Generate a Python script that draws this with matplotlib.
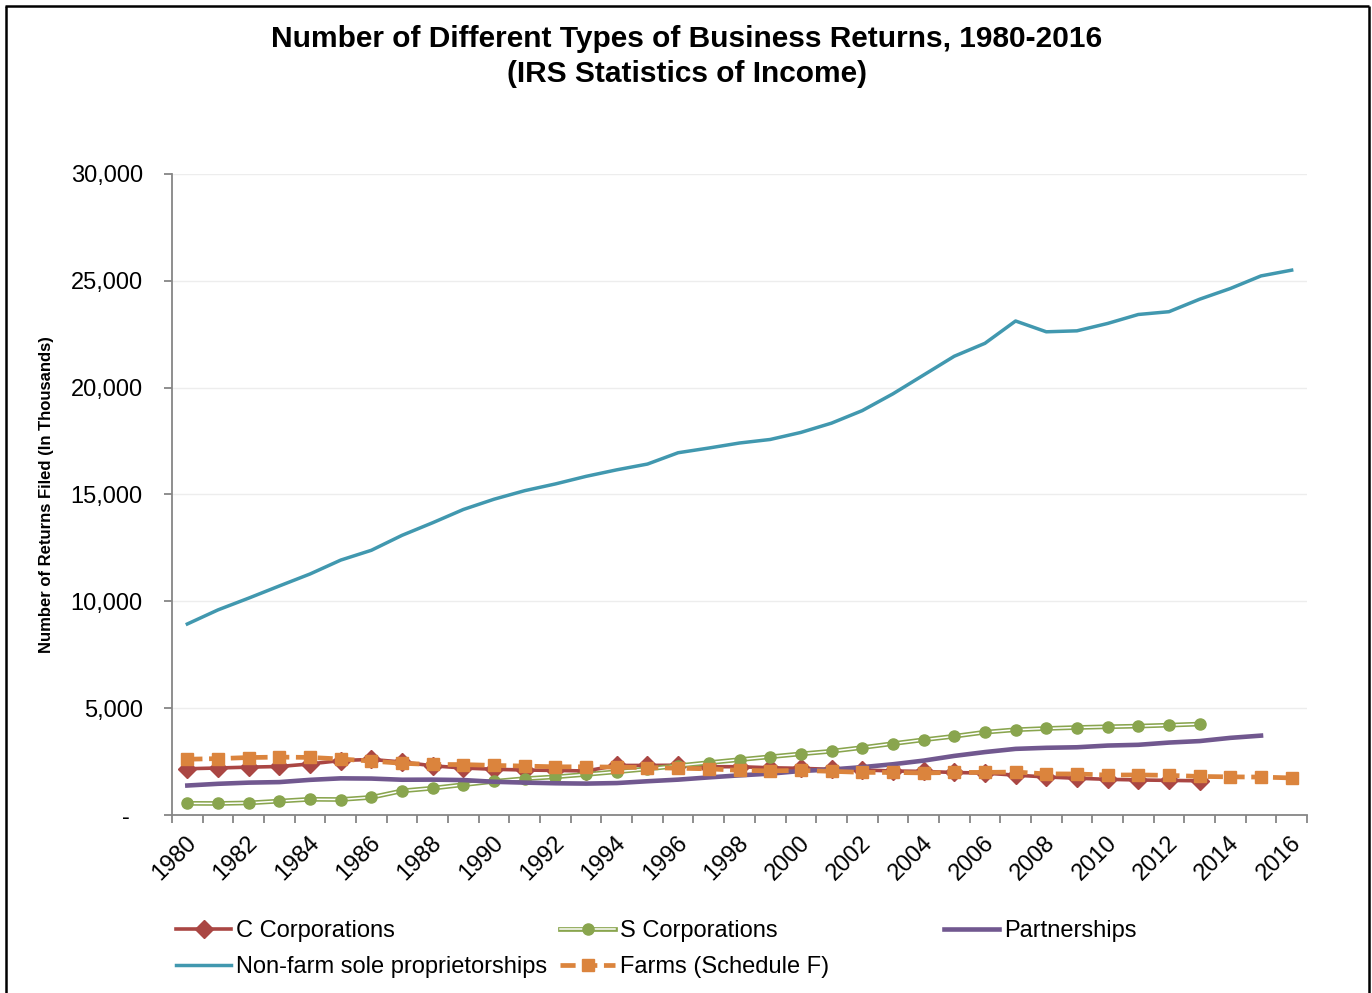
import matplotlib
matplotlib.use("Agg")
import matplotlib.pyplot as plt
import matplotlib.transforms as mtransforms
from matplotlib.lines import Line2D
import numpy as np

plt.rcParams['font.family'] = ['Liberation Sans', 'DejaVu Sans']

# ---------------- data (thousands of returns) ----------------
years = list(range(1980, 2017))
c_corps = [2165, 2200, 2240, 2270, 2390, 2550, 2600, 2480, 2300, 2200, 2140, 2105,
           2085, 2060, 2320, 2320, 2330, 2260, 2260, 2210, 2185, 2135, 2110, 2060,
           2040, 1990, 1960, 1865, 1780, 1720, 1670, 1640, 1620, 1600]          # 1980-2013
s_corps = [545, 540, 565, 650, 735, 725, 825, 1130, 1255, 1420, 1575, 1700,
           1785, 1900, 2025, 2155, 2305, 2450, 2590, 2725, 2860, 2985, 3155, 3340,
           3520, 3685, 3875, 3990, 4050, 4095, 4130, 4160, 4205, 4255]          # 1980-2013
partnerships = [1380, 1460, 1515, 1540, 1645, 1715, 1705, 1650, 1655, 1635, 1555, 1515,
                1485, 1470, 1495, 1580, 1655, 1760, 1855, 1935, 2060, 2130, 2240, 2375,
                2545, 2765, 2945, 3095, 3145, 3170, 3250, 3285, 3390, 3460, 3610, 3715]  # 1980-2015
nonfarm = [8940, 9600, 10150, 10720, 11280, 11930, 12390, 13090, 13680, 14300, 14780, 15180,
           15495, 15850, 16155, 16425, 16955, 17175, 17410, 17575, 17905, 18340, 18925, 19710,
           20590, 21470, 22075, 23120, 22615, 22660, 23005, 23425, 23555, 24140, 24640, 25230,
           25500]                                                                 # 1980-2016
farms = [2610, 2640, 2690, 2710, 2695, 2620, 2525, 2420, 2365, 2360, 2320, 2290,
         2255, 2255, 2240, 2220, 2190, 2160, 2090, 2065, 2085, 2045, 1995, 1990,
         1970, 1990, 1995, 2010, 1925, 1920, 1870, 1875, 1855, 1805, 1785, 1775,
         1735]                                                                    # 1980-2016

series_names = ["C Corporations", "S Corporations", "Partnerships",
                "Non-farm sole proprietorships", "Farms (Schedule F)"]
y_ticks = [0, 5000, 10000, 15000, 20000, 25000, 30000]
y_tick_labels = ["-  ", "5,000", "10,000", "15,000", "20,000", "25,000", "30,000"]
title_line1 = "Number of Different Types of Business Returns, 1980-2016"
title_line2 = "(IRS Statistics of Income)"
y_label = "Number of Returns Filed (In Thousands)"

# ---------------- colours ----------------
RED = "#AA4643"
GREEN = "#89A54E"
PURPLE = "#71588F"
TEAL = "#4198AF"
ORANGE = "#DB843D"

W, H = 1372, 993
fig = plt.figure(figsize=(W / 100, H / 100), dpi=100)
ax = fig.add_axes([172 / W, 1 - 815 / H, (1307 - 172) / W, (815 - 174) / H])

idx = {y: i for i, y in enumerate(years)}
x_c = [idx[y] for y in years[:len(c_corps)]]
x_s = [idx[y] for y in years[:len(s_corps)]]
x_p = [idx[y] for y in years[:len(partnerships)]]
x_n = [idx[y] for y in years[:len(nonfarm)]]
x_f = [idx[y] for y in years[:len(farms)]]

l_c, = ax.plot(x_c, c_corps, color=RED, lw=2.6, marker='D', ms=9,
               mfc=RED, mec=RED, zorder=3)
l_s1, = ax.plot(x_s, s_corps, color=GREEN, lw=3.4, zorder=4)
l_s2, = ax.plot(x_s, s_corps, color='white', lw=1.1, marker='o', ms=8,
                mfc=GREEN, mec=GREEN, zorder=4)
l_p, = ax.plot(x_p, partnerships, color=PURPLE, lw=3.3, zorder=5)
l_n, = ax.plot(x_n, nonfarm, color=TEAL, lw=2.5, zorder=6)
l_f, = ax.plot(x_f, farms, color=ORANGE, lw=3.4, marker='s', ms=8.5,
               mfc=ORANGE, mec=ORANGE, zorder=7)
l_f.set_dashes([3.2, 1.4])

# axes styling
ax.set_xlim(-0.5, len(years) - 0.5)
ax.set_ylim(0, 30000)
ax.set_yticks(y_ticks)
ax.set_yticklabels(y_tick_labels, fontsize=17)
ax.tick_params(axis='y', direction='out', length=6, width=1.3, color='#868686', pad=15)
ax.yaxis.grid(True, color='#EDEDED', lw=1.0)
ax.set_axisbelow(True)

ax.set_xticks(np.arange(-0.5, len(years), 1.0))
ax.set_xticklabels([])
ax.tick_params(axis='x', which='major', direction='out', length=6, width=1.3, color='#868686')
label_pos = [i for i, y in enumerate(years) if y % 2 == 0]
ax.set_xticks(label_pos, minor=True)
ax.set_xticklabels([str(years[i]) for i in label_pos], minor=True, fontsize=17,
                   rotation=45, ha='right', va='top', rotation_mode='anchor')
ax.tick_params(axis='x', which='minor', length=0, pad=12)
off = mtransforms.ScaledTranslation(-2 / 100, 0, fig.dpi_scale_trans)
for lab in ax.get_xticklabels(minor=True):
    lab.set_transform(lab.get_transform() + off)

for s in ['top', 'right']:
    ax.spines[s].set_visible(False)
for s in ['left', 'bottom']:
    ax.spines[s].set_color('#868686')
    ax.spines[s].set_linewidth(1.3)

# titles
fig.text(687 / W, 1 - 39 / H, title_line1, ha='center', va='center',
         fontsize=21.5, fontweight='bold')
fig.text(687 / W, 1 - 74 / H, title_line2, ha='center', va='center',
         fontsize=21.5, fontweight='bold')
fig.text(47 / W, 1 - 495 / H, y_label, rotation=90, ha='center', va='center',
         fontsize=12, fontweight='bold')

# legends (three fixed columns)
leg_kw = dict(frameon=False, fontsize=17, handlelength=2.35, handletextpad=0.2,
              borderpad=0, borderaxespad=0, labelspacing=0.6, loc='upper left',
              bbox_transform=fig.transFigure)
cols = [([l_c, l_n], [series_names[0], series_names[3]], 176),
        ([(l_s1, l_s2), l_f], [series_names[1], series_names[4]], 560),
        ([l_p], [series_names[2]], 944)]
for handles, labels, xpx in cols:
    lg = fig.legend(handles, labels, bbox_to_anchor=(xpx / W, 1 - 920 / H), **leg_kw)

# outer frame (left, top, right)
frame_kw = dict(color='black', lw=1.8, transform=fig.transFigure, solid_capstyle='butt')
fig.add_artist(Line2D([5.5 / W, 5.5 / W], [0, 1 - 6 / H], **frame_kw))
fig.add_artist(Line2D([4.6 / W, 1369.4 / W], [1 - 6 / H, 1 - 6 / H], **frame_kw))
fig.add_artist(Line2D([1368.5 / W, 1368.5 / W], [0, 1 - 6 / H], **frame_kw))

fig.savefig("out.png", dpi=100, facecolor='white')
